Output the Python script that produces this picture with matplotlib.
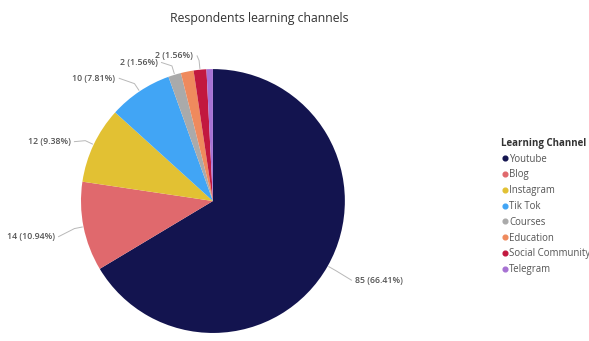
import numpy as np
import matplotlib.pyplot as plt
from matplotlib.lines import Line2D

# data
channels = ["Youtube", "Blog", "Instagram", "Tik Tok", "Courses",
            "Education", "Social Community", "Telegram"]
counts = [85, 14, 12, 10, 2, 2, 2, 1]
colors = ["#13144f", "#e0696d", "#e2c133", "#41a5f5", "#aaaaaa",
          "#ef8a5d", "#c2183f", "#a772d3"]

# label text positions (pie data units) and alignment, None = no label
label_pos = [(1.08, -0.60, "left"), (-1.20, -0.27, "right"),
             (-1.08, 0.45, "right"), (-0.74, 0.93, "right"),
             (-0.42, 1.05, "right"), None, (-0.15, 1.10, "right"), None]

plt.rcParams['font.family'] = ['Open Sans', 'DejaVu Sans']

fig = plt.figure(figsize=(5.89, 3.41), dpi=100)
ax = fig.add_axes([0.1375, 0.0235, 0.448, 0.774])

wedges, _ = ax.pie(counts, colors=colors, startangle=90, counterclock=False,
                   radius=1.0, wedgeprops=dict(linewidth=0))
ax.set_xlim(-1, 1)
ax.set_ylim(-1, 1)
ax.set_aspect("equal")
ax.axis("off")

total = sum(counts)
for w, c, pos in zip(wedges, counts, label_pos):
    if pos is None:
        continue
    ang = np.deg2rad((w.theta1 + w.theta2) / 2)
    ex, ey = np.cos(ang), np.sin(ang)
    tx, ty, ha = pos
    gap = 0.03 if ha == "left" else -0.03
    ax.plot([ex * 1.01, ex * 1.07, tx - gap], [ey * 1.01, ey * 1.07, ty],
            color="#b8b8b8", lw=0.7, clip_on=False)
    ax.text(tx, ty, f"{c} ({c / total * 100:.2f}%)", ha=ha, va="center",
            fontsize=6.3, color="#555555", fontweight="semibold", clip_on=False)

fig.text(0.44, 0.945, "Respondents learning channels", ha="center", va="center",
         fontsize=8.8, color="#333333")

handles = [Line2D([], [], marker="o", linestyle="", markersize=3.4,
                  markerfacecolor=col, markeredgecolor=col) for col in colors]
leg = fig.legend(handles, channels, loc="upper left", bbox_to_anchor=(0.842, 0.61),
                 frameon=False, fontsize=6.9, title="Learning Channel",
                 title_fontsize=7.0, handletextpad=0.05, handlelength=0.8,
                 labelspacing=0.5, borderpad=0, alignment="left")
leg.get_title().set_fontweight("bold")
leg.get_title().set_color("#333333")
for t in leg.get_texts():
    t.set_color("#555555")

fig.savefig("out.png", dpi=100)
